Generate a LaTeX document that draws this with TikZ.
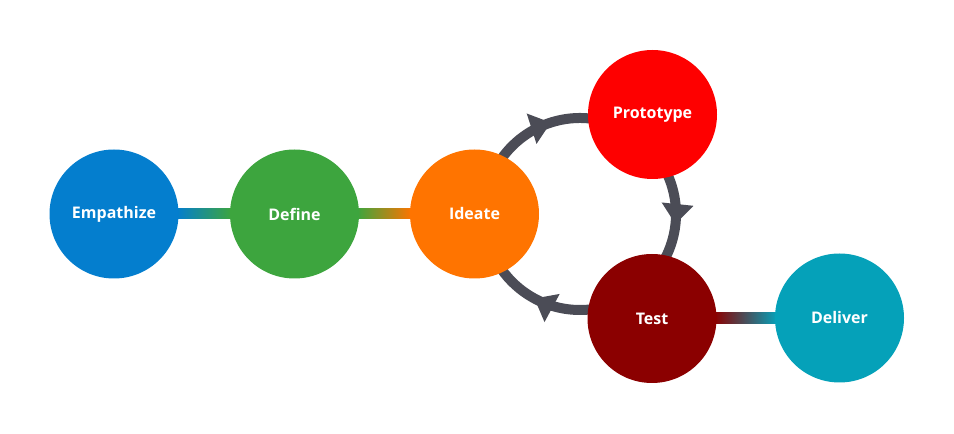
\documentclass[tikz,border=0pt]{standalone}
\usepackage{fontspec}
\setmainfont{Open Sans}
\usetikzlibrary{arrows.meta,decorations.markings,calc,backgrounds}
\definecolor{cEmp}{HTML}{047ECE}
\definecolor{cDef}{HTML}{3DA53E}
\definecolor{cIde}{HTML}{FF7400}
\definecolor{cPro}{HTML}{FE0000}
\definecolor{cTst}{HTML}{8B0000}
\definecolor{cDel}{HTML}{05A1B9}
\definecolor{cArc}{HTML}{4B4C56}
\begin{document}
\begin{tikzpicture}[x=1pt,y=1pt,
  stage/.style={circle, minimum size=129pt, inner sep=0pt, text=white,
    font=\bfseries\fontsize{16}{19}\selectfont},
  cyclearc/.style={draw=cArc, line width=10pt},
  headat/.style={decoration={markings, mark=at position #1 with
    {\arrow{Triangle[width=32pt,length=20pt,line width=0pt]}}}, postaction=decorate}
]
\useasboundingbox (0,0) rectangle (954,434);
\node[stage, fill=cEmp] (empathize) at (114,220) {Empathize};
\node[stage, fill=cDef] (define) at (294.5,220) {Define};
\node[stage, fill=cIde] (ideate) at (474.5,220) {Ideate};
\node[stage, fill=cPro] (prototype) at (652.5,319.5) {Prototype};
\node[stage, fill=cTst] (test) at (652,115.5) {Test};
\node[stage, fill=cDel] (deliver) at (839.5,116) {Deliver};
\coordinate (cyc) at (580,220);
\begin{scope}[on background layer]
  \shade[left color=cEmp, right color=cDef]
    ($(empathize.east)+(-2,-5)$) rectangle ($(define.west)+(2,5)$);
  \shade[left color=cDef, right color=cIde]
    ($(define.east)+(-2,-5)$) rectangle ($(ideate.west)+(2,5)$);
  \shade[left color=cTst, right color=cDel]
    ($(test.east)+(-2,-5)$) rectangle ($(deliver.west)+(2,5)$);
  \draw[cyclearc, headat=0.58] ($(cyc)+(160:96pt)$) arc[start angle=160, end angle=70, radius=96pt];
  \draw[cyclearc, headat=0.56] ($(cyc)+(50:96pt)$) arc[start angle=50, end angle=-50, radius=96pt];
  \draw[cyclearc, headat=0.53] ($(cyc)+(-60:96pt)$) arc[start angle=-60, end angle=-170, radius=96pt];
\end{scope}
\end{tikzpicture}
\end{document}
